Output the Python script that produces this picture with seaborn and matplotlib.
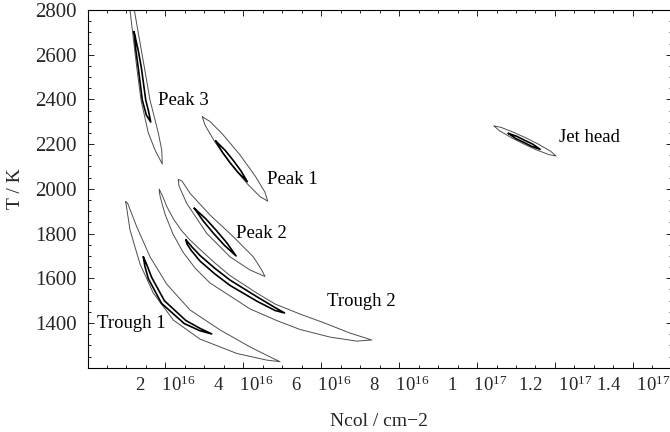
import matplotlib
matplotlib.use('Agg')
import matplotlib.pyplot as plt
import seaborn as sns
import numpy as np
from matplotlib.ticker import FixedLocator, MultipleLocator

# confidence contours: (Ncol / 1e16 cm^-2, T / K), closed outlines
peak3_outer = [(1.081, 2844), (1.091, 2800), (1.160, 2697), (1.263, 2545), (1.374, 2397), (1.561, 2250),
               (1.733, 2174), (1.920, 2111), (1.905, 2174), (1.818, 2250), (1.605, 2397), (1.458, 2545),
               (1.304, 2697), (1.202, 2800), (1.199, 2844)]
peak3_inner = [(1.194, 2703), (1.240, 2621), (1.300, 2545), (1.407, 2397), (1.510, 2330), (1.623, 2299),
               (1.571, 2344), (1.495, 2397), (1.380, 2545), (1.300, 2621)]
peak1_outer = [(2.947, 2322), (3.140, 2302), (3.470, 2244), (3.910, 2153), (4.310, 2056), (4.555, 1985),
               (4.627, 1945), (4.430, 1965), (4.100, 2023), (3.665, 2114), (3.262, 2212), (3.020, 2284)]
peak1_inner = [(3.291, 2214), (3.530, 2173), (3.738, 2128), (3.933, 2082), (4.103, 2032), (3.866, 2073),
               (3.656, 2118), (3.461, 2164)]
peak2_outer = [(2.331, 2042), (2.426, 2035), (2.632, 1980), (3.145, 1883), (3.743, 1786), (4.257, 1696),
               (4.472, 1637), (4.557, 1608), (4.172, 1637), (3.659, 1696), (3.060, 1801), (2.547, 1935),
               (2.349, 2013)]
peak2_inner = [(2.742, 1913), (3.042, 1865), (3.317, 1812), (3.579, 1758), (3.813, 1700), (3.512, 1748),
               (3.240, 1800), (2.976, 1855)]
trough2_outer = [(1.843, 1998), (1.926, 1968), (2.041, 1919), (2.221, 1861), (2.426, 1811), (2.632, 1771),
                 (2.888, 1729), (3.273, 1668), (3.659, 1612), (4.344, 1534), (4.814, 1485), (5.456, 1440),
                 (6.054, 1402), (6.739, 1355), (7.297, 1324), (6.911, 1319), (6.226, 1337), (5.456, 1371),
                 (4.858, 1411), (4.172, 1463), (3.659, 1521), (3.145, 1579), (2.760, 1646), (2.452, 1717),
                 (2.195, 1798), (1.990, 1887), (1.874, 1959), (1.843, 1986)]
trough2_inner = [(2.529, 1771), (2.683, 1740), (2.888, 1702), (3.273, 1644), (3.659, 1592), (4.344, 1518),
                 (4.814, 1469), (5.058, 1445), (4.814, 1456), (4.344, 1498), (3.659, 1568), (3.273, 1619),
                 (2.888, 1677), (2.657, 1726), (2.555, 1753)]
trough1_outer = [(0.981, 1942), (1.014, 1905), (1.091, 1816), (1.348, 1664), (1.689, 1534), (2.203, 1413),
                 (2.888, 1328), (3.831, 1264), (4.601, 1234), (4.942, 1227), (4.770, 1241), (4.172, 1293),
                 (3.402, 1369), (2.632, 1458), (2.033, 1574), (1.605, 1696), (1.263, 1831), (1.027, 1937)]
trough1_inner = [(1.433, 1696), (1.530, 1657), (1.647, 1604), (1.977, 1499), (2.526, 1411), (2.899, 1375),
                 (3.189, 1351), (2.878, 1366), (2.480, 1398), (1.900, 1488), (1.562, 1598), (1.474, 1653)]
jet_outer = [(10.437, 2281), (10.616, 2275), (10.948, 2252), (11.268, 2227), (11.584, 2199), (11.890, 2168),
             (12.028, 2147), (11.849, 2153), (11.517, 2175), (11.196, 2201), (10.881, 2229), (10.575, 2260)]
jet_inner = [(10.804, 2248), (11.019, 2235), (11.225, 2217), (11.428, 2200), (11.618, 2177), (11.402, 2190),
             (11.199, 2208), (10.994, 2225)]

outer_contours = [peak3_outer, peak1_outer, peak2_outer, trough2_outer, trough1_outer, jet_outer]
inner_contours = [peak3_inner, peak1_inner, peak2_inner, trough2_inner, trough1_inner, jet_inner]

lbl_txt = ['Peak 1', 'Peak 2', 'Peak 3', 'Trough 1', 'Trough 2', 'Jet head']
lbl_n = [4.60, 3.81, 1.81, 0.24, 6.14, 12.11]
lbl_T = [2042, 1801, 2397, 1399, 1495, 2229]

x_ticks = [2, 4, 6, 8, 10, 12, 14]  # 1e16 cm^-2
x_tick_lbl = [r'$2\quad\;10^{16}$', r'$4\quad\;10^{16}$', r'$6\quad\;10^{16}$', r'$8\quad\;10^{16}$',
              r'$1\quad\;10^{17}$', r'$1.2\quad\;10^{17}$', r'$1.4\quad\;10^{17}$']
y_ticks = [1400, 1600, 1800, 2000, 2200, 2400, 2600, 2800]

sns.set_theme(style='white')
plt.rcParams['font.family'] = ['Liberation Serif', 'DejaVu Serif']
plt.rcParams['mathtext.fontset'] = 'custom'
plt.rcParams['mathtext.rm'] = 'Liberation Serif'
plt.rcParams['mathtext.it'] = 'Liberation Serif:italic'
plt.rcParams['mathtext.bf'] = 'Liberation Serif:bold'

fig = plt.figure(figsize=(6.7, 4.32), dpi=100)
ax = fig.add_axes([0.1306, 0.1488, 0.8721, 0.8281])

def draw(pts, c, w):  # closed outline
    a = np.array(pts + pts[:1], dtype=float)
    sns.lineplot(x=a[:, 0], y=a[:, 1], sort=False, estimator=None, color=c, lw=w, ax=ax)

for p in outer_contours:
    draw(p, '0.3', 0.7)
for p in inner_contours:
    draw(p, 'black', 1.2)

for t, n, T in zip(lbl_txt, lbl_n, lbl_T):
    ax.text(n, T, t, fontsize=13.5, ha='left', va='center', color='black')

ax.set_xlim(0, 15)
ax.set_ylim(1200, 2800)
ax.xaxis.set_major_locator(FixedLocator(x_ticks))
ax.set_xticklabels(x_tick_lbl)
ax.xaxis.set_minor_locator(MultipleLocator(0.5))
ax.set_yticks(y_ticks)
ax.yaxis.set_minor_locator(MultipleLocator(50))
ax.tick_params(which='both', direction='in', bottom=True, left=True, top=True, right=True,
               color='black', width=0.6)
ax.tick_params(which='major', length=4.5)
ax.tick_params(which='minor', length=2.5)
ax.tick_params(axis='x', labelsize=13.5, pad=6)
ax.tick_params(axis='y', labelsize=15, pad=8)
for s in ax.spines.values():
    s.set_color('black')
    s.set_linewidth(0.8)

ax.set_xlabel('Ncol / cm\u22122', fontsize=14)
ax.set_ylabel('T / K', fontsize=14)
ax.xaxis.set_label_coords(0.499, -0.149)
ax.yaxis.set_label_coords(-0.124, 0.5)
ax.xaxis.label.set_va('center')
ax.yaxis.label.set_va('center')

fig.savefig('out.png', dpi=100)
plt.close()
